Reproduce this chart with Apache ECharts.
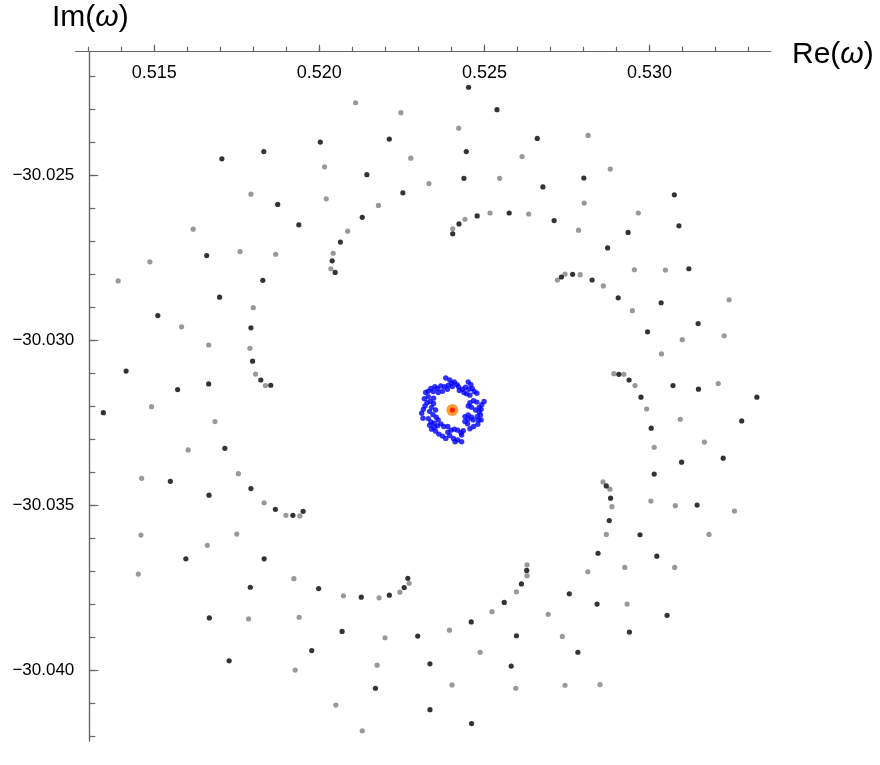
<!DOCTYPE html>
<html><head><meta charset="utf-8">
<script src="https://cdn.jsdelivr.net/npm/echarts@6/dist/echarts.min.js"></script>
<style>html,body{margin:0;padding:0;background:#fff}#c{width:880px;height:765px}</style>
</head><body><div id="c"></div>
<script>
const blackRe = [0.51705,0.51832,0.52003,0.51874,0.51938,0.51659,0.51829,0.52452,0.52538,0.52212,
0.52445,0.52660,0.52144,0.52438,0.52677,0.52253,0.52478,0.52575,0.52711,0.52130,
0.52423,0.52404,0.52064,0.52039,0.52048,0.52801,0.53075,0.53089,0.52935,0.52873,
0.53119,0.52767,0.52733,0.52826,0.51698,0.51511,0.51793,0.51798,0.51415,0.51823,
0.51665,0.51853,0.51571,0.51346,0.51714,0.51549,0.51793,0.51666,0.51867,0.51951,
0.52905,0.53035,0.53147,0.52994,0.52907,0.52938,0.53071,0.53148,0.53325,0.52974,
0.53279,0.53005,0.53223,0.53097,0.53014,0.52869,0.52882,0.53144,0.51920,0.51596,
0.51833,0.51791,0.51998,0.51667,0.51977,0.51727,0.52127,0.52212,0.52257,0.52268,
0.52069,0.52298,0.52335,0.52170,0.52335,0.52461,0.52460,0.52560,0.52612,0.52628,
0.52597,0.52581,0.52878,0.52971,0.52844,0.53022,0.52757,0.52841,0.53053,0.52939,0.52783];
const blackIm = [-30.02449,-30.02427,-30.02398,-30.02587,-30.02649,-30.02742,-30.02817,-30.02232,-30.02300,-30.02389,
-30.02427,-30.02387,-30.02497,-30.02508,-30.02534,-30.02552,-30.02622,-30.02613,-30.02636,-30.02626,
-30.02646,-30.02676,-30.02701,-30.02758,-30.02793,-30.02507,-30.02558,-30.02652,-30.02672,-30.02719,
-30.02782,-30.02799,-30.02807,-30.02816,-30.02868,-30.02924,-30.02961,-30.03062,-30.03092,-30.03119,
-30.03131,-30.03135,-30.03148,-30.03218,-30.03326,-30.03426,-30.03448,-30.03468,-30.03511,-30.03517,
-30.02870,-30.02885,-30.02948,-30.02973,-30.03102,-30.03119,-30.03136,-30.03147,-30.03171,-30.03171,
-30.03243,-30.03265,-30.03356,-30.03368,-30.03404,-30.03440,-30.03477,-30.03498,-30.03529,-30.03661,
-30.03661,-30.03747,-30.03751,-30.03840,-30.03939,-30.03970,-30.03777,-30.03771,-30.03748,-30.03720,
-30.03881,-30.03895,-30.03979,-30.04053,-30.04118,-30.04160,-30.03852,-30.03793,-30.03737,-30.03696,
-30.03894,-30.03986,-30.03545,-30.03588,-30.03644,-30.03653,-30.03767,-30.03798,-30.03832,-30.03883,-30.03944];

const grayRe = [0.52016,0.51793,0.52021,0.51618,0.51760,0.51868,0.51487,0.51391,0.52035,0.52110,
0.52247,0.52422,0.52614,0.52277,0.52546,0.52332,0.52179,0.52517,0.52634,0.52441,
0.52404,0.52086,0.52042,0.52814,0.52881,0.52802,0.52785,0.52966,0.52954,0.53048,
0.52744,0.52790,0.52721,0.51800,0.51583,0.51665,0.51790,0.51807,0.51837,0.51492,
0.51684,0.51603,0.51755,0.51462,0.51833,0.52860,0.53241,0.52948,0.53226,0.53099,
0.53036,0.52892,0.52922,0.52956,0.53208,0.52991,0.53093,0.53166,0.53014,0.52859,
0.52880,0.52886,0.53004,0.53078,0.53257,0.51899,0.51941,0.51460,0.51750,0.51661,
0.51452,0.51923,0.51786,0.51939,0.51927,0.52073,0.52181,0.52244,0.52272,0.52199,
0.52175,0.52402,0.52050,0.52130,0.52394,0.52523,0.52597,0.52629,0.52629,0.52693,
0.52487,0.52595,0.52869,0.53180,0.52925,0.53076,0.52813,0.52932,0.52736,0.52744,0.52850];
const grayIm = [-30.02473,-30.02556,-30.02570,-30.02662,-30.02730,-30.02738,-30.02761,-30.02819,-30.02782,-30.02279,
-30.02309,-30.02356,-30.02442,-30.02447,-30.02508,-30.02524,-30.02590,-30.02613,-30.02616,-30.02632,
-30.02661,-30.02668,-30.02735,-30.02378,-30.02480,-30.02583,-30.02665,-30.02613,-30.02785,-30.02786,
-30.02798,-30.02800,-30.02816,-30.02900,-30.02958,-30.03013,-30.03023,-30.03101,-30.03136,-30.03200,
-30.03245,-30.03331,-30.03403,-30.03417,-30.03491,-30.02834,-30.02876,-30.02909,-30.02985,-30.02997,
-30.03040,-30.03100,-30.03102,-30.03136,-30.03130,-30.03207,-30.03238,-30.03307,-30.03323,-30.03428,
-30.03450,-30.03503,-30.03486,-30.03500,-30.03516,-30.03529,-30.03531,-30.03589,-30.03586,-30.03620,
-30.03707,-30.03721,-30.03843,-30.03838,-30.03998,-30.03773,-30.03779,-30.03762,-30.03735,-30.03900,
-30.03983,-30.04043,-30.04104,-30.04182,-30.03877,-30.03821,-30.03761,-30.03712,-30.03679,-30.03829,
-30.03944,-30.04053,-30.03587,-30.03587,-30.03687,-30.03687,-30.03700,-30.03798,-30.03896,-30.04044,-30.04042];

const blueRe = [0.52383,0.52395,0.52409,0.52417,0.52403,0.52391,0.52379,0.52388,0.52368,0.52358,
0.52350,0.52338,0.52330,0.52322,0.52345,0.52360,0.52373,0.52451,0.52459,0.52463,
0.52453,0.52443,0.52433,0.52424,0.52438,0.52446,0.52456,0.52469,0.52477,0.52499,
0.52492,0.52484,0.52477,0.52467,0.52456,0.52451,0.52461,0.52473,0.52484,0.52478,
0.52488,0.52480,0.52467,0.52456,0.52449,0.52441,0.52451,0.52461,0.52451,0.52441,
0.52431,0.52419,0.52406,0.52395,0.52389,0.52399,0.52409,0.52419,0.52429,0.52436,
0.52383,0.52373,0.52362,0.52352,0.52348,0.52358,0.52368,0.52377,0.52389,0.52310,
0.52315,0.52320,0.52326,0.52336,0.52346,0.52340,0.52334,0.52344,0.52354,0.52330,
0.52338,0.52334,0.52348,0.52360,0.52352,0.52330,0.52346,0.52490,
0.52318,0.52431,0.52411,0.52490,0.52466,0.52421,0.52314,0.52401,0.52340,0.52482];
const blueIm = [-30.03113,-30.03119,-30.03125,-30.03133,-30.03139,-30.03135,-30.03139,-30.03147,-30.03137,-30.03145,
-30.03139,-30.03145,-30.03153,-30.03157,-30.03154,-30.03157,-30.03153,-30.03125,-30.03133,-30.03145,
-30.03147,-30.03141,-30.03147,-30.03151,-30.03157,-30.03161,-30.03165,-30.03154,-30.03159,-30.03184,
-30.03194,-30.03202,-30.03186,-30.03182,-30.03188,-30.03198,-30.03202,-30.03210,-30.03216,-30.03230,
-30.03225,-30.03253,-30.03260,-30.03267,-30.03252,-30.03245,-30.03238,-30.03232,-30.03225,-30.03230,
-30.03306,-30.03301,-30.03296,-30.03287,-30.03277,-30.03271,-30.03268,-30.03271,-30.03279,-30.03273,
-30.03296,-30.03289,-30.03283,-30.03274,-30.03262,-30.03258,-30.03252,-30.03260,-30.03260,-30.03220,
-30.03208,-30.03198,-30.03188,-30.03184,-30.03190,-30.03202,-30.03214,-30.03224,-30.03232,-30.03236,
-30.03246,-30.03256,-30.03250,-30.03240,-30.03210,-30.03170,-30.03174,-30.03240,
-30.03176,-30.03286,-30.03306,-30.03208,-30.03240,-30.03139,-30.03235,-30.03129,-30.03268,-30.03240];

const centerRe = [0.52403];
const centerIm = [-30.03210];

const xMajorTicks = [0.515, 0.520, 0.525, 0.530];
const xMinorTicks = [0.513,0.514,0.515,0.516,0.517,0.518,0.519,0.520,0.521,0.522,0.523,0.524,0.525,0.526,0.527,0.528,0.529,0.530,0.531,0.532,0.533];
const yMajorTicks = [-30.025, -30.030, -30.035, -30.040];
const yMinorTicks = [-30.022,-30.023,-30.024,-30.025,-30.026,-30.027,-30.028,-30.029,-30.030,-30.031,-30.032,-30.033,-30.034,-30.035,-30.036,-30.037,-30.038,-30.039,-30.040,-30.041,-30.042];
const xRange = [0.512633, 0.533668];
const yRange = [-30.042129, -30.021243];

function pairs(a, b) { return a.map((v, i) => [v, b[i]]); }

const FONT = '"Liberation Sans", Arial, Helvetica, sans-serif';
const AX = '#666666';

const chart = echarts.init(document.getElementById('c'), null, {renderer: 'canvas'});
function xAx(major) {
  return {
    type: 'value', position: 'top', min: xRange[0], max: xRange[1], gridIndex: 0,
    axisLine: {show: true, onZero: false, lineStyle: {color: AX, width: 1.2}},
    axisTick: {show: true, inside: false, length: major ? 7 : 5, customValues: major ? xMajorTicks : xMinorTicks,
      lineStyle: {color: AX, width: 1.2}},
    axisLabel: {show: major, inside: true, margin: 12, customValues: xMajorTicks,
      formatter: v => v.toFixed(3), fontSize: 18, color: '#000', fontFamily: FONT},
    splitLine: {show: false}
  };
}
function yAx(major) {
  return {
    type: 'value', position: 'left', offset: -13.3, min: yRange[0], max: yRange[1], gridIndex: 0,
    axisLine: {show: true, onZero: false, lineStyle: {color: AX, width: 1.2}},
    axisTick: {show: true, inside: true, length: major ? 9 : 6, customValues: major ? yMajorTicks : yMinorTicks,
      lineStyle: {color: AX, width: 1.2}},
    axisLabel: {show: major, inside: false, margin: 15, customValues: yMajorTicks,
      formatter: v => '\u2212' + Math.abs(v).toFixed(3), fontSize: 17, color: '#000', fontFamily: FONT},
    splitLine: {show: false}
  };
}

chart.setOption({
  animation: false,
  backgroundColor: '#fff',
  grid: {left: 76, top: 51.7, right: 109.3, bottom: 24, containLabel: false, outerBoundsMode: 'none'},
  xAxis: [xAx(true), xAx(false)],
  yAxis: [yAx(true), yAx(false)],
  graphic: [
    {type: 'text', left: 52, top: 3, style: {
      text: '{a|Im(}{b|ω}{a|)}',
      rich: {a: {fontSize: 30, fontFamily: FONT, fill: '#000'}, b: {fontSize: 30, fontFamily: FONT, fontStyle: 'italic', fill: '#000'}}
    }},
    {type: 'text', left: 792, top: 40, style: {
      text: '{a|Re(}{b|ω}{a|)}',
      rich: {a: {fontSize: 30, fontFamily: FONT, fill: '#000'}, b: {fontSize: 30, fontFamily: FONT, fontStyle: 'italic', fill: '#000'}}
    }}
  ],
  series: [
    {type: 'scatter', data: pairs(grayRe, grayIm), symbolSize: 5.2, itemStyle: {color: '#808080'}, silent: true, z: 2},
    {type: 'scatter', data: pairs(blackRe, blackIm), symbolSize: 5.2, itemStyle: {color: '#000000'}, silent: true, z: 3},
    {type: 'scatter', data: pairs(blueRe, blueIm), symbolSize: 5.4, itemStyle: {color: '#0000ff'}, silent: true, z: 4},
    {type: 'scatter', data: pairs(centerRe, centerIm), symbolSize: 12, itemStyle: {color: '#ff8000'}, silent: true, z: 5},
    {type: 'scatter', data: pairs(centerRe, centerIm), symbolSize: 5, itemStyle: {color: '#ff0000'}, silent: true, z: 6}
  ]
});
</script>
</body></html>
